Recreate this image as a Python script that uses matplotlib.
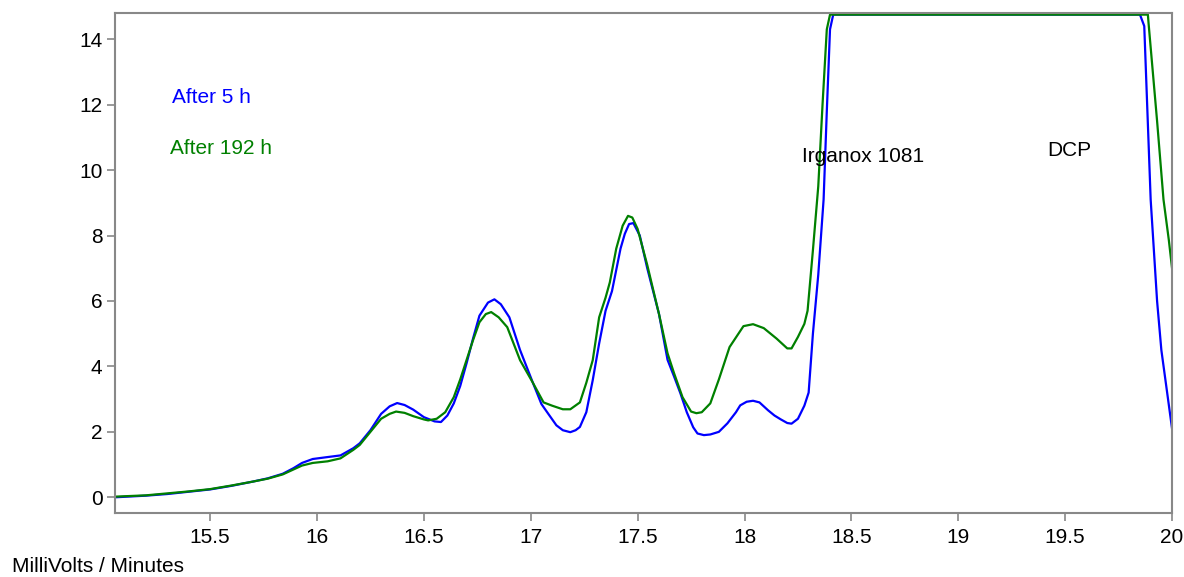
import matplotlib
matplotlib.use("Agg")
import matplotlib.pyplot as plt

plt.rcParams['font.family'] = ['Liberation Sans', 'DejaVu Sans']

# After 5 h (blue)
x_5h = [15.055, 15.2, 15.3, 15.4, 15.5, 15.6, 15.7, 15.77, 15.84, 15.89, 15.93, 15.98,
        16.05, 16.11, 16.17, 16.2, 16.25, 16.3, 16.34, 16.375, 16.41, 16.45, 16.5, 16.55,
        16.58, 16.61, 16.64, 16.67, 16.70, 16.73, 16.76, 16.80, 16.83, 16.86, 16.90, 16.95,
        17.01, 17.05, 17.08, 17.12, 17.15, 17.185, 17.21, 17.23, 17.26, 17.29, 17.32, 17.35,
        17.38, 17.42, 17.44, 17.46, 17.48, 17.51, 17.545, 17.6, 17.64, 17.67, 17.70, 17.73, 17.76,
        17.78, 17.81, 17.84, 17.88, 17.92, 17.96, 17.98, 18.01, 18.04, 18.07, 18.11, 18.14,
        18.17, 18.2, 18.22, 18.25, 18.28, 18.30, 18.32, 18.345, 18.37, 18.385, 18.40, 18.415,
        19.85, 19.87, 19.90, 19.93, 19.95, 20.0]
y_5h = [0.0, 0.05, 0.1, 0.17, 0.24, 0.35, 0.48, 0.58, 0.72, 0.89, 1.05, 1.17,
        1.23, 1.28, 1.5, 1.65, 2.05, 2.55, 2.78, 2.88, 2.82, 2.68, 2.45, 2.32,
        2.3, 2.5, 2.87, 3.4, 4.1, 4.85, 5.55, 5.95, 6.05, 5.9, 5.5, 4.5,
        3.5, 2.85, 2.57, 2.2, 2.05, 1.99, 2.05, 2.15, 2.6, 3.58, 4.7, 5.7,
        6.3, 7.6, 8.05, 8.35, 8.38, 8.0, 7.0, 5.6, 4.2, 3.7, 3.18, 2.6, 2.14,
        1.95, 1.9, 1.92, 2.0, 2.26, 2.6, 2.81, 2.92, 2.95, 2.9, 2.66, 2.5,
        2.38, 2.27, 2.25, 2.4, 2.8, 3.2, 5.0, 6.8, 9.1, 11.8, 14.3, 14.75,
        14.75, 14.4, 9.1, 6.0, 4.5, 2.1]

# After 192 h (green)
x_192h = [15.055, 15.2, 15.3, 15.4, 15.5, 15.6, 15.7, 15.77, 15.84, 15.89, 15.93, 15.98,
          16.05, 16.11, 16.17, 16.2, 16.25, 16.3, 16.34, 16.37, 16.41, 16.45, 16.5, 16.52,
          16.56, 16.6, 16.64, 16.67, 16.70, 16.73, 16.76, 16.79, 16.815, 16.85, 16.89, 16.95,
          17.01, 17.06, 17.1, 17.15, 17.185, 17.23, 17.26, 17.29, 17.32, 17.35, 17.37, 17.40,
          17.43, 17.455, 17.475, 17.50, 17.545, 17.6, 17.64, 17.67, 17.71, 17.75, 17.775, 17.8, 17.84, 17.88,
          17.93, 17.995, 18.04, 18.09, 18.15, 18.2, 18.22, 18.25, 18.28, 18.295, 18.32, 18.345,
          18.365, 18.385, 18.40, 19.887, 19.89, 19.93, 19.96, 19.985, 20.0]
y_192h = [0.02, 0.06, 0.12, 0.18, 0.25, 0.36, 0.48, 0.57, 0.7, 0.85, 0.97, 1.05,
          1.1, 1.19, 1.45, 1.6, 2.0, 2.4, 2.55, 2.62, 2.58, 2.48, 2.38, 2.35,
          2.4, 2.6, 3.06, 3.6, 4.2, 4.8, 5.35, 5.6, 5.66, 5.5, 5.2, 4.19,
          3.5, 2.9, 2.8, 2.69, 2.69, 2.9, 3.5, 4.19, 5.5, 6.1, 6.57, 7.6,
          8.3, 8.6, 8.55, 8.2, 7.1, 5.6, 4.4, 3.8, 3.06, 2.62, 2.57, 2.6, 2.87, 3.6,
          4.59, 5.23, 5.29, 5.17, 4.85, 4.55, 4.55, 4.9, 5.3, 5.7, 7.55, 9.5,
          12.0, 14.3, 14.75, 14.75, 14.5, 11.5, 9.1, 7.86, 7.0]

x_ticks = [15.5, 16, 16.5, 17, 17.5, 18, 18.5, 19, 19.5, 20]
x_ticklabels = ["15.5", "16", "16.5", "17", "17.5", "18", "18.5", "19", "19.5", "20"]
y_ticks = [0, 2, 4, 6, 8, 10, 12, 14]

fs = 15

fig = plt.figure(figsize=(11.84, 5.77), dpi=100)
ax = fig.add_axes([0.0971, 0.1109, 0.8928, 0.8666])

ax.plot(x_5h, y_5h, color='#0000ff', lw=1.6)
ax.plot(x_192h, y_192h, color='#008000', lw=1.6)

ax.set_xlim(15.055, 20.0)
ax.set_ylim(-0.48, 14.8)
ax.set_xticks(x_ticks)
ax.set_xticklabels(x_ticklabels)
ax.set_yticks(y_ticks)

for s in ax.spines.values():
    s.set_color('#888888')
    s.set_linewidth(1.5)
ax.tick_params(axis='both', direction='out', length=6, width=1.2, color='#888888',
               labelsize=fs, labelcolor='black')
ax.tick_params(axis='x', pad=5)
ax.tick_params(axis='y', pad=3)

ax.text(15.322, 12.23, "After 5 h", color='#0000ff', fontsize=fs, va='center', ha='left')
ax.text(15.313, 10.67, "After 192 h", color='#008000', fontsize=fs, va='center', ha='left')
ax.text(18.27, 10.4, "Irganox 1081", color='black', fontsize=fs, va='center', ha='left')
ax.text(19.414, 10.61, "DCP", color='black', fontsize=fs, va='center', ha='left')

fig.text(0.0101, 0.019, "MilliVolts / Minutes", fontsize=fs, va='center', ha='left')

fig.savefig("out.png", dpi=100)
